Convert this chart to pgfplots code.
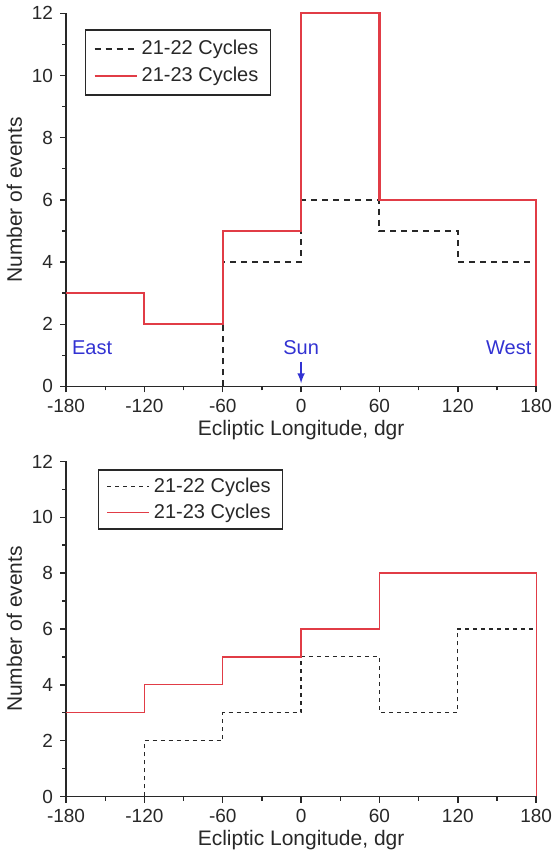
\documentclass[border=0pt]{standalone}
\usepackage{fontspec}
\setmainfont{Liberation Sans}
\usepackage{pgfplots}
\pgfplotsset{compat=1.18}
\definecolor{cycred}{RGB}{225,60,70}
\definecolor{noteblue}{RGB}{50,50,210}
\definecolor{txt}{RGB}{40,40,40}
\pgfplotsset{
  histo/.style={
    scale only axis,
    width=235pt,
    xmin=-180, xmax=180,
    ymin=0, ymax=12,
    xtick={-180,-120,...,180},
    ytick={0,2,...,12},
    minor x tick num=1,
    minor y tick num=1,
    axis lines=left,
    axis line style={-, line width=0.8pt, txt},
    tick style={line width=0.7pt, txt},
    tick align=outside,
    major tick length=3pt,
    minor tick length=2pt,
    tick label style={font=\fontsize{9.5}{11}\selectfont, text=txt},
    label style={font=\fontsize{10.5}{12}\selectfont, text=txt},
    /pgf/number format/assume math mode=true,
    xlabel={Ecliptic Longitude, dgr},
    ylabel={Number of events},
    xlabel style={yshift=3pt},
    ylabel style={yshift=-2pt},
    legend cell align=left,
    legend image code/.code={\draw[#1] (0pt,0pt) -- (21pt,0pt);},
    legend style={font=\fontsize{10}{12}\selectfont, draw=txt, line width=0.6pt,
      anchor=north west, inner xsep=4pt, inner ysep=3pt, row sep=1pt, text=txt},
    clip=false,
  }
}
\begin{document}
\begin{tikzpicture}
\begin{axis}[histo, height=186.5pt, at={(0,0)},
    legend style={at={(0.04,0.957)}}]
\addplot[const plot, line width=1pt, txt, dash pattern=on 3pt off 2.5pt]
  coordinates {(-60,0) (-60,4) (0,6) (60,5) (120,4) (180,4)};
\addlegendentry{21-22 Cycles}
\addplot[const plot, line width=1.1pt, cycred]
  coordinates {(-180,3) (-120,2) (-60,5) (0,12) (60,6) (180,6) (180,0)};
\addlegendentry{21-23 Cycles}
\node[noteblue, font=\fontsize{10}{12}\selectfont] at (axis cs:-160,1.24) {East};
\node[noteblue, font=\fontsize{10}{12}\selectfont] at (axis cs:0,1.24) {Sun};
\node[noteblue, font=\fontsize{10}{12}\selectfont] at (axis cs:159,1.24) {West};
\draw[noteblue, line width=0.7pt, -latex] (axis cs:0,0.8) -- (axis cs:0,0.1);
\end{axis}
\begin{axis}[histo, height=167.5pt, at={(0,-205pt)},
    legend style={at={(0.068,0.976)}, inner ysep=2pt, row sep=0pt}]
\addplot[const plot, line width=0.6pt, txt, dash pattern=on 2pt off 2pt]
  coordinates {(-120,0) (-120,2) (-60,3) (0,5) (60,3) (120,6) (180,6)};
\addlegendentry{21-22 Cycles}
\addplot[const plot, line width=0.65pt, cycred]
  coordinates {(-180,3) (-120,4) (-60,5) (0,6) (60,8) (180,8) (180,0)};
\addlegendentry{21-23 Cycles}
\end{axis}
\end{tikzpicture}
\end{document}
